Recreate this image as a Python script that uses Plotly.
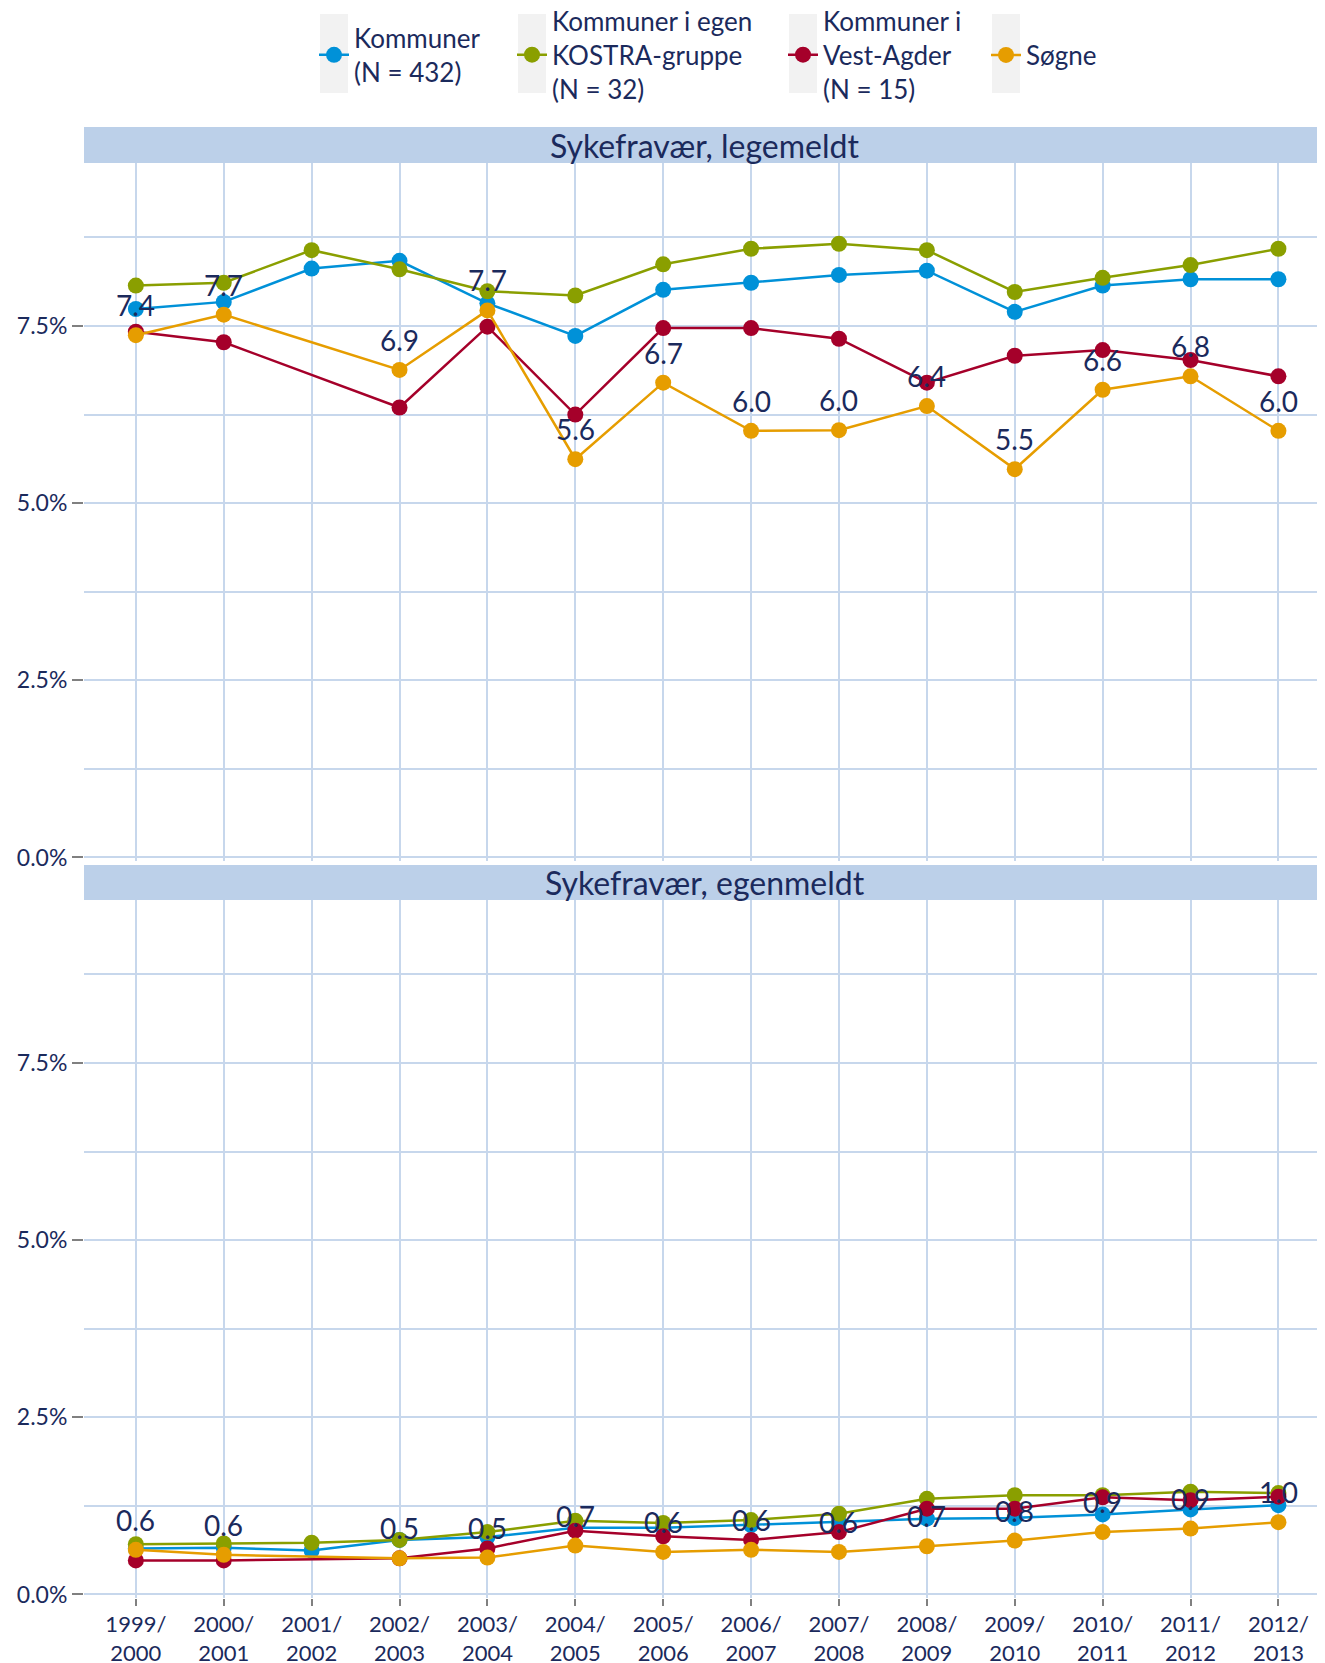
import plotly.graph_objects as go

# skoleår
perioder = ["1999/<br>2000", "2000/<br>2001", "2001/<br>2002", "2002/<br>2003",
            "2003/<br>2004", "2004/<br>2005", "2005/<br>2006", "2006/<br>2007",
            "2007/<br>2008", "2008/<br>2009", "2009/<br>2010", "2010/<br>2011",
            "2011/<br>2012", "2012/<br>2013"]
y_ticks = [0, 2.5, 5, 7.5]

# Sykefravær, legemeldt (%)
kommuner_leg = [7.74, 7.84, 8.31, 8.42, 7.82, 7.36, 8.01, 8.11, 8.22, 8.28, 7.70, 8.07, 8.16, 8.16]
kostra_leg = [8.07, 8.11, 8.57, 8.30, 7.99, 7.93, 8.37, 8.59, 8.66, 8.57, 7.98, 8.18, 8.36, 8.59]
vestagder_leg = [7.42, 7.27, None, 6.35, 7.49, 6.25, 7.47, 7.47, 7.32, 6.70, 7.08, 7.16, 7.02, 6.79]
sogne_leg = [7.37, 7.66, None, 6.88, 7.72, 5.62, 6.70, 6.02, 6.03, 6.37, 5.48, 6.60, 6.79, 6.02]

# Sykefravær, egenmeldt (%)
kommuner_egen = [0.65, 0.66, 0.62, 0.77, 0.81, 0.94, 0.94, 0.98, 1.02, 1.07, 1.08, 1.13, 1.20, 1.26]
kostra_egen = [0.71, 0.72, 0.73, 0.77, 0.88, 1.04, 1.01, 1.05, 1.14, 1.35, 1.40, 1.40, 1.45, 1.43]
vestagder_egen = [0.48, 0.48, None, 0.51, 0.65, 0.90, 0.82, 0.77, 0.88, 1.21, 1.21, 1.37, 1.33, 1.38]
sogne_egen = [0.63, 0.56, None, 0.51, 0.52, 0.69, 0.60, 0.63, 0.60, 0.68, 0.76, 0.88, 0.93, 1.02]

serier = ["Kommuner<br>(N = 432)", "Kommuner i egen<br>KOSTRA-gruppe<br>(N = 32)",
          "Kommuner i<br>Vest-Agder<br>(N = 15)", "Søgne"]
farger = ["#0091D8", "#8A9F00", "#A5002A", "#E69D00"]
paneler = ["Sykefravær, legemeldt", "Sykefravær, egenmeldt"]

# siden har 8px marg rundt figuren
OFF = 8
W, H = 1325 - OFF, 1663 - OFF
ML, MR, MT, MB = 84 - OFF, 0, 127 - OFF, 65
PW, PH = W - ML - MR, H - MT - MB
TXT = "#1B2A5C"
GRID = "#C7D7EC"
FONT = "Lato"


def yp(px):
    # px målt fra toppen av siden
    return (H - MB - (px - OFF)) / PH


def xp(px):
    return (px - OFF - ML) / PW


fig = go.Figure()

data = [
    ("x2", "y2", [kommuner_leg, kostra_leg, vestagder_leg, sogne_leg]),
    ("x", "y", [kommuner_egen, kostra_egen, vestagder_egen, sogne_egen]),
]
legender = ["legend", "legend2", "legend3", "legend4"]

for p, (xa, ya, serie_vals) in enumerate(data):
    for i, vals in enumerate(serie_vals):
        fig.add_trace(go.Scatter(
            x=perioder, y=vals, xaxis=xa, yaxis=ya,
            mode="lines+markers", name=serier[i],
            line=dict(color=farger[i], width=2.5),
            marker=dict(color=farger[i], size=16),
            connectgaps=True,
            showlegend=(p == 0), legend=legender[i],
        ))
    # Søgne-etiketter
    for x, v in zip(perioder, serie_vals[3]):
        if v is None:
            continue
        fig.add_annotation(x=x, y=v, xref=xa, yref=ya, text=f"{v:.1f}",
                           showarrow=False, yshift=30,
                           font=dict(family=FONT, size=28, color=TXT))

yaxis_common = dict(
    range=[-0.05, 9.8], tickvals=y_ticks, ticktext=[f"{v:.1f}%" for v in y_ticks],
    showgrid=True, gridcolor=GRID, gridwidth=2, zeroline=False,
    ticks="outside", ticklen=11, tickwidth=2, tickcolor="#808080",
    tickfont=dict(family=FONT, size=23, color=TXT),
    minor=dict(dtick=1.25, tick0=0, showgrid=True, gridcolor=GRID, gridwidth=2),
)
xaxis_common = dict(
    range=[-0.59, 13.53], showgrid=True, gridcolor=GRID, gridwidth=2, zeroline=False,
    tickfont=dict(family=FONT, size=22, color=TXT),
)

fig.update_layout(
    width=W, height=H,
    margin=dict(l=ML, r=MR, t=MT, b=MB, autoexpand=False),
    plot_bgcolor="white", paper_bgcolor="white",
    font=dict(family=FONT, color=TXT),
    xaxis=dict(xaxis_common, ticks="outside", ticklen=7, tickwidth=2, tickcolor="#808080",
               anchor="y", automargin=False),
    xaxis2=dict(xaxis_common, matches="x", showticklabels=False, anchor="y2"),
    yaxis=dict(yaxis_common, domain=[0, yp(900)], anchor="x", automargin=False),
    yaxis2=dict(yaxis_common, domain=[yp(861), yp(163)], anchor="x2", automargin=False),
)

# legender, en per serie
legend_px = [314, 512, 783, 986]
for i, lg in enumerate(legender):
    fig.update_layout({lg: dict(
        x=xp(legend_px[i]), xanchor="left", y=yp(55), yanchor="middle",
        orientation="h", bgcolor="rgba(0,0,0,0)", valign="middle",
        font=dict(family=FONT, size=26, color=TXT),
    )})
    fig.add_shape(type="rect", xref="paper", yref="paper", layer="below",
                  x0=xp(legend_px[i] + 6), x1=xp(legend_px[i] + 34),
                  y0=yp(93), y1=yp(14), fillcolor="#F2F2F2", line_width=0)

# stripper
for top, bot, tittel in [(127, 163, paneler[0]), (865, 900, paneler[1])]:
    fig.add_shape(type="rect", xref="paper", yref="paper", layer="above",
                  x0=0, x1=1, y0=yp(bot), y1=yp(top), fillcolor="#BCD0E9", line_width=0)
    fig.add_annotation(x=0.5, y=(yp(bot) + yp(top)) / 2, xref="paper", yref="paper",
                       text=tittel, showarrow=False, yanchor="middle",
                       font=dict(family=FONT, size=32, color=TXT))

fig.write_html("out.html")
